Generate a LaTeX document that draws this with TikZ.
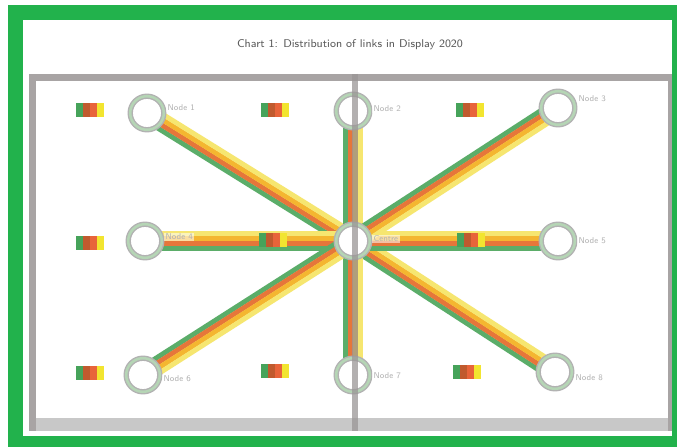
\documentclass[tikz,border=0pt]{standalone}
\usetikzlibrary{positioning,calc}

\definecolor{frameGreen}{HTML}{22B24C}
\definecolor{rimGray}{HTML}{A8A4A4}
\definecolor{baseGray}{HTML}{C8C8C8}
\definecolor{splitGray}{HTML}{9A9696}
\definecolor{ringGreen}{HTML}{B5D5B5}
\definecolor{bandGreen}{HTML}{5BAD69}
\definecolor{bandOrange}{HTML}{E6763A}
\definecolor{bandGold}{HTML}{F4B630}
\definecolor{bandYellow}{HTML}{F6E670}
\definecolor{chipGreen}{HTML}{46A35A}
\definecolor{chipBrown}{HTML}{C05A2E}
\definecolor{chipRed}{HTML}{E8643A}
\definecolor{chipYellow}{HTML}{F2E530}

% four coloured stripes side by side, green on the right-hand side of #1 -> #2
\newcommand{\band}[2]{%
  \foreach \off/\col in {5.1pt/bandGreen,1.7pt/bandOrange,-1.7pt/bandGold,-5.1pt/bandYellow}
    \draw[stripe,\col] ($(#1)!\off!-90:(#2)$) -- ($(#2)!\off!90:(#1)$);
}
% small striped colour chip
\newcommand{\chip}[2]{%
  \coordinate (#1) at (#2);
  \foreach \i/\col in {0/chipGreen,1/chipBrown,2/chipRed,3/chipYellow}
    \fill[\col] ($(#1)+(-14+7*\i,-7)$) rectangle ++(7,14);
}

\begin{document}
\begin{tikzpicture}[x=0.25mm,y=-0.25mm,font=\sffamily]
  \tikzset{
    stripe/.style={line width=3.5pt},
    hub/.style={circle, draw=gray!60, line width=1pt, double=ringGreen, double distance=1.8pt,
      fill=white, minimum size=8.4mm, inner sep=0pt},
    tag/.style={font=\sffamily\fontsize{6}{7}\selectfont, text=gray!60, inner sep=1pt,
      fill=white, fill opacity=0.55, text opacity=1},
    divider/.style={draw=splitGray, line width=1.5mm, opacity=0.75}
  }
  \useasboundingbox (0,0) rectangle (677,447);
  \fill[white] (0,0) rectangle (677,447);

  % outer frame
  \fill[frameGreen] (8,5) rectangle (677,447);
  \fill[white] (23,20) rectangle (672,436);
  \node[font=\sffamily\fontsize{8}{9.6}\selectfont, text=black!65] (title) at (350,45)
    {Chart 1: Distribution of links in Display 2020};

  % panel
  \fill[baseGray] (29,418) rectangle (672,431);
  \fill[rimGray] (29,74) rectangle (672,81);
  \fill[rimGray] (29,74) rectangle (36,431);
  \fill[rimGray] (668,74) rectangle (672,431);

  % node places
  \coordinate (tl) at (147,113);
  \coordinate (tc) at (353,111);
  \coordinate (tr) at (558,108);
  \coordinate (ml) at (145,241);
  \coordinate (cc) at (353,241);
  \coordinate (mr) at (558,241);
  \coordinate (bl) at (143,375);
  \coordinate (bc) at (353,375);
  \coordinate (br) at (555,372);

  % links
  \band{tl}{cc}
  \band{cc}{br}
  \band{ml}{cc}
  \band{cc}{mr}
  \band{tc}{cc}
  \band{cc}{bc}
  \band{tr}{cc}
  \band{cc}{bl}

  % chips
  \chip{k1}{90,110}
  \chip{k2}{275,110}
  \chip{k3}{470,110}
  \chip{k4}{90,243}
  \chip{k5}{273,240}
  \chip{k6}{471,240}
  \chip{k7}{90,373}
  \chip{k8}{275,371}
  \chip{k9}{467,372}

  % nodes
  \node[hub] (ntl) at (tl) {};
  \node[hub] (ntc) at (tc) {};
  \node[hub] (ntr) at (tr) {};
  \node[hub] (nml) at (ml) {};
  \node[hub] (ncc) at (cc) {};
  \node[hub] (nmr) at (mr) {};
  \node[hub] (nbl) at (bl) {};
  \node[hub] (nbc) at (bc) {};
  \node[hub] (nbr) at (br) {};

  \node[tag, right=1pt of ntl, yshift=1.25mm] (ttl) {Node 1};
  \node[tag, right=1pt of ntc, yshift=0.5mm] (ttc) {Node 2};
  \node[tag, right=1pt of ntr, yshift=2.25mm] (ttr) {Node 3};
  \node[tag, right=1pt of nml, yshift=1mm] (tml) {Node 4};
  \node[tag, right=1pt of ncc, yshift=0.5mm] (tcc) {Centre};
  \node[tag, right=1pt of nmr] (tmr) {Node 5};
  \node[tag, right=1pt of nbl, yshift=-1mm] (tbl) {Node 6};
  \node[tag, right=1pt of nbc, yshift=-0.25mm] (tbc) {Node 7};
  \node[tag, right=1pt of nbr, yshift=-1.5mm] (tbr) {Node 8};

  % centre split
  \draw[divider] (355,74) -- (355,431);
\end{tikzpicture}
\end{document}
